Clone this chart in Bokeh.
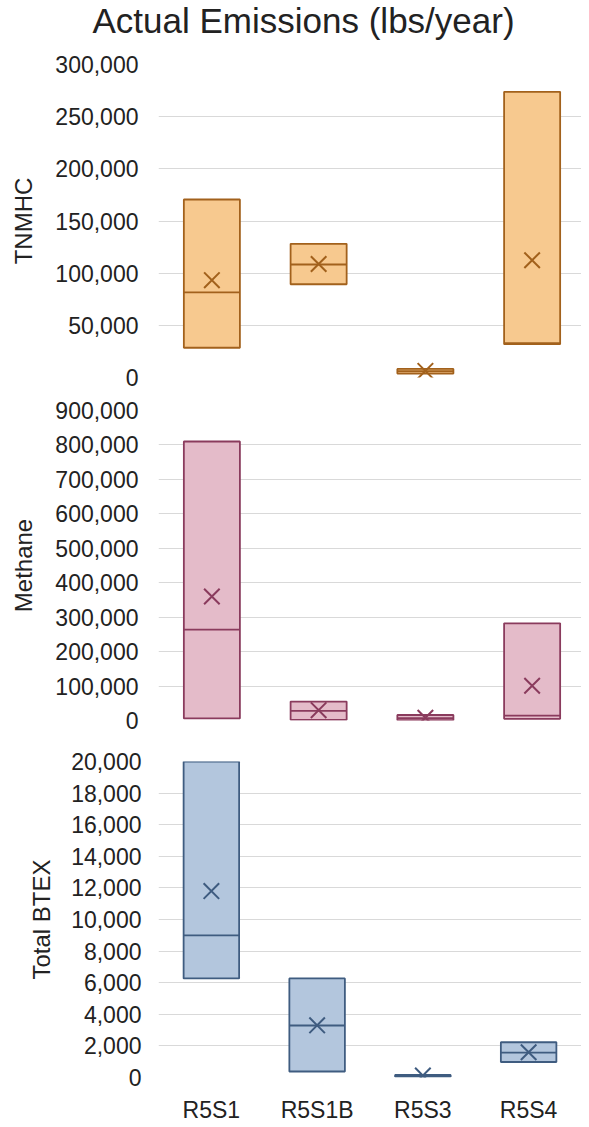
from bokeh.plotting import figure
from bokeh.layouts import column
from bokeh.models import FactorRange, Range1d, FixedTicker, NumeralTickFormatter, ColumnDataSource
from bokeh.transform import dodge
from bokeh.embed import file_html
from bokeh.resources import INLINE

# ---------------- data ----------------
categories = ["R5S1", "R5S1B", "R5S3", "R5S4"]

tnmhc_low = [28500, 89400, 3800, 31900]
tnmhc_median = [81500, 108300, 6000, 33000]
tnmhc_high = [170600, 128100, 8200, 273800]
tnmhc_mean = [93300, 108800, 6300, 112400]

methane_low = [6000, 2000, 1000, 5000]
methane_median = [264000, 28000, 7000, 14000]
methane_high = [810000, 55000, 16000, 282000]
methane_mean = [360000, 30000, 8000, 101000]

btex_low = [6270, 380, 60, 980]
btex_median = [9000, 3290, 110, 1580]
btex_high = [20000, 6270, 160, 2230]
btex_mean = [11800, 3300, 120, 1600]

tnmhc_ticks = [0, 50000, 100000, 150000, 200000, 250000, 300000]
methane_ticks = [0, 100000, 200000, 300000, 400000, 500000, 600000, 700000, 800000, 900000]
btex_ticks = [0, 2000, 4000, 6000, 8000, 10000, 12000, 14000, 16000, 18000, 20000]

chart_title = "Actual Emissions (lbs/year)"
FONT = "Liberation Sans"
TEXT = "#222222"
BOX_W = 0.525


def make_panel(name, low, med, high, mean, ticks, fill, line,
               frame_w, frame_h, mb_left, mb_top, mb_bottom,
               tick_standoff, label_standoff, show_x):
    p = figure(x_range=FactorRange(*categories), y_range=Range1d(ticks[0], ticks[-1]),
               frame_width=frame_w, frame_height=frame_h,
               min_border_left=mb_left, min_border_right=0,
               min_border_top=mb_top, min_border_bottom=mb_bottom,
               toolbar_location=None, output_backend="svg",
               background_fill_color="white", border_fill_color="white",
               outline_line_color=None)
    src = ColumnDataSource(dict(cat=categories, low=low, med=med, high=high, mean=mean))
    p.vbar(x="cat", width=BOX_W, bottom="low", top="high", source=src,
           fill_color=fill, line_color=line, line_width=1.8)
    p.segment(x0=dodge("cat", -BOX_W / 2, range=p.x_range),
              x1=dodge("cat", BOX_W / 2, range=p.x_range),
              y0="med", y1="med", source=src, line_color=line, line_width=1.8)
    p.scatter(x="cat", y="mean", source=src, marker="x", size=22,
              line_color=line, line_width=2)

    p.xgrid.visible = False
    p.ygrid.grid_line_color = "#D9D9D9"
    p.ygrid.grid_line_width = 1.2

    ya = p.yaxis[0]
    ya.ticker = FixedTicker(ticks=ticks)
    ya.formatter = NumeralTickFormatter(format="0,0")
    ya.axis_line_color = None
    ya.major_tick_line_color = None
    ya.minor_tick_line_color = None
    ya.major_tick_out = 0
    ya.major_tick_in = 0
    ya.major_label_standoff = tick_standoff
    ya.major_label_text_font = FONT
    ya.major_label_text_font_size = "23px"
    ya.major_label_text_color = TEXT
    ya.axis_label = name
    ya.axis_label_text_font = FONT
    ya.axis_label_text_font_size = "24px"
    ya.axis_label_text_font_style = "normal"
    ya.axis_label_text_color = TEXT
    ya.axis_label_standoff = label_standoff

    xa = p.xaxis[0]
    if show_x:
        xa.axis_line_color = None
        xa.major_tick_line_color = None
        xa.minor_tick_line_color = None
        xa.major_tick_out = 0
        xa.major_tick_in = 0
        xa.major_label_standoff = 19
        xa.major_label_text_font = FONT
        xa.major_label_text_font_size = "23px"
        xa.major_label_text_color = TEXT
    else:
        xa.visible = False
    return p


# ---- title strip: a frameless plot that only carries the chart title ----
p0 = figure(frame_width=427, frame_height=1, x_range=Range1d(0, 1), y_range=Range1d(0, 1),
            x_axis_type=None, y_axis_type=None,
            min_border_left=154, min_border_right=0, min_border_top=0, min_border_bottom=0,
            toolbar_location=None, output_backend="svg",
            background_fill_color="white", border_fill_color="white", outline_line_color=None)
p0.grid.visible = False
p0.title.text = chart_title
p0.title.align = "left"
p0.title.offset = -66
p0.title.vertical_align = "top"
p0.title.standoff = 0
p0.title.text_font = FONT
p0.title.text_font_size = "35px"
p0.title.text_font_style = "normal"
p0.title.text_color = TEXT

p1 = make_panel("TNMHC", tnmhc_low, tnmhc_median, tnmhc_high, tnmhc_mean, tnmhc_ticks,
                "#F7C98F", "#A2611C", 427, 313, 154, 22, 16, 20, 15, False)

p2 = make_panel("Methane", methane_low, methane_median, methane_high, methane_mean, methane_ticks,
                "#E4BBC9", "#8A3B5D", 427, 310, 154, 17, 20, 20, 15, False)

p3 = make_panel("Total BTEX", btex_low, btex_median, btex_high, btex_mean, btex_ticks,
                "#B3C6DD", "#3F5C80", 423, 316, 158, 21, 40, 17, 13, True)

layout = column(p0, p1, p2, p3, spacing=0)

with open("out.html", "w") as f:
    f.write(file_html(layout, INLINE))
